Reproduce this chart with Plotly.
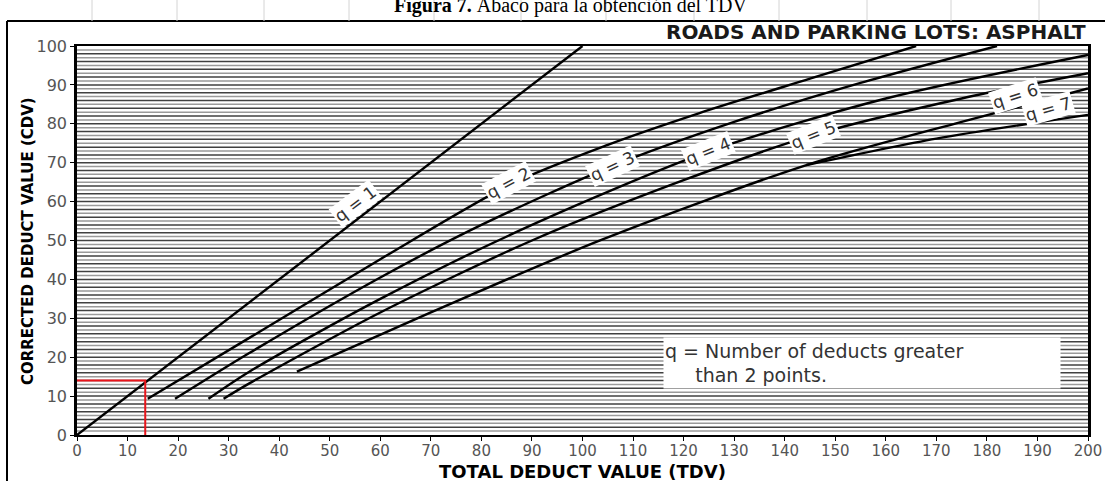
import plotly.graph_objects as go

# Corrected deduct value curves (TDV -> CDV), one pair of lists per q
tdv_q1 = [0, 100]
cdv_q1 = [0, 100]

tdv_q2 = [14, 34, 60, 86, 105, 123, 145, 166]
cdv_q2 = [9.3, 24.9, 45.2, 64.6, 74.6, 82.7, 91.6, 100]

tdv_q3 = [19.4, 34, 60, 80, 106, 130, 155, 182]
cdv_q3 = [9.3, 21.0, 40.5, 54.0, 69.2, 80.5, 90.5, 100]

tdv_q4 = [26, 34, 60, 90, 125, 160, 200]
cdv_q4 = [9.3, 16.2, 35.0, 54.0, 72.9, 86.5, 97.7]

tdv_q5 = [29, 34, 60, 90, 120, 145.6, 175, 200]
cdv_q5 = [9.3, 13.2, 31.5, 50.0, 65.5, 77.1, 86.5, 93.0]

tdv_q6 = [43.5, 70, 103.6, 144.3, 175, 200]
cdv_q6 = [16.3, 31.5, 50.1, 69.4, 80.5, 89.1]

tdv_q7 = [144.3, 170, 200]
cdv_q7 = [69.4, 76.2, 82.3]

# Worked example
example_tdv = 13.5
example_cdv = 14

# Curve labels: text, position (TDV, CDV), rotation
label_texts = ["q = 1", "q = 2", "q = 3", "q = 4", "q = 5", "q = 6", "q = 7"]
label_tdv = [55.0, 85.3, 106.0, 124.9, 145.6, 185.6, 192.1]
label_cdv = [59.4, 64.9, 69.2, 72.9, 77.1, 87.1, 83.8]
label_angles = [-37, -28, -25, -22, -22, -18, -16]

x_ticks = list(range(0, 201, 10))
y_ticks = list(range(0, 101, 10))
hatch_levels = list(range(1, 100))

curves = [
    (tdv_q1, cdv_q1), (tdv_q2, cdv_q2), (tdv_q3, cdv_q3), (tdv_q4, cdv_q4),
    (tdv_q5, cdv_q5), (tdv_q6, cdv_q6), (tdv_q7, cdv_q7),
]

FONT = "DejaVu Sans"

fig = go.Figure()

for xs, ys in curves:
    fig.add_trace(go.Scatter(
        x=xs, y=ys, mode="lines",
        line=dict(color="black", width=2.4, shape="spline", smoothing=0.8),
        hoverinfo="skip", showlegend=False,
    ))

fig.add_trace(go.Scatter(
    x=[0, example_tdv, example_tdv], y=[example_cdv, example_cdv, 0],
    mode="lines", line=dict(color="#e8141b", width=2),
    hoverinfo="skip", showlegend=False,
))

shapes = []
# Horizontal hatching: every unit, alternating dark / light rules
for v in hatch_levels:
    shapes.append(dict(
        type="line", xref="paper", x0=0, x1=1, yref="y", y0=v, y1=v,
        layer="below",
        line=dict(color="#404040" if v % 2 == 0 else "#9a9a9a", width=1.5),
    ))

# Page frame around the figure
L, R, B, T = 77, 1088, 435, 46
def px(p):
    return (p - L) / (R - L)
def py(p):
    return (B - p) / (B - T)

shapes.append(dict(type="line", xref="paper", yref="paper",
                   x0=px(7), x1=px(7), y0=py(481), y1=py(21),
                   line=dict(color="black", width=2)))
shapes.append(dict(type="line", xref="paper", yref="paper",
                   x0=px(7), x1=px(1105), y0=py(21), y1=py(21),
                   line=dict(color="black", width=2)))
for cx in [92, 177, 264, 349, 434, 521, 606, 694, 779, 867, 951, 1039]:
    shapes.append(dict(type="line", xref="paper", yref="paper",
                       x0=px(cx), x1=px(cx), y0=py(21), y1=py(0),
                       line=dict(color="#d4d4d4", width=1)))

annotations = []
for t, lx, ly, ang in zip(label_texts, label_tdv, label_cdv, label_angles):
    annotations.append(dict(
        x=lx, y=ly, xref="x", yref="y", text=t, showarrow=False,
        textangle=ang, bgcolor="white", borderpad=1,
        font=dict(family=FONT, size=17, color="#333333"),
    ))

annotations.append(dict(
    x=115.9, y=18.6, xref="x", yref="y", xanchor="left", yanchor="middle",
    text="q = Number of deducts greater<br>\u00a0\u00a0\u00a0\u00a0\u00a0than 2 points.",
    showarrow=False, align="left", valign="middle", bgcolor="white",
    width=394, height=48, borderpad=1,
    font=dict(family=FONT, size=19, color="#333333"),
))

annotations.append(dict(
    x=1, y=py(32), xref="paper", yref="paper", xanchor="right", yanchor="middle",
    text="<b>ROADS AND PARKING LOTS: ASPHALT</b>", showarrow=False,
    font=dict(family=FONT, size=20, color="#1a1a1a"),
))

annotations.append(dict(
    x=0.5, y=py(471), xref="paper", yref="paper", xanchor="center", yanchor="middle",
    text="<b>TOTAL DEDUCT VALUE (TDV)</b>", showarrow=False,
    font=dict(family=FONT, size=18, color="black"),
))

annotations.append(dict(
    x=px(28), y=py(241), xref="paper", yref="paper", xanchor="center", yanchor="middle",
    text="<b>CORRECTED DEDUCT VALUE (CDV)</b>", showarrow=False, textangle=-90,
    font=dict(family=FONT, size=15, color="black"),
))

annotations.append(dict(
    x=px(570), y=py(19), xref="paper", yref="paper", xanchor="center", yanchor="bottom",
    text="<b>Figura 7.</b> Ábaco para la obtención del TDV", showarrow=False,
    font=dict(family="Liberation Serif", size=20, color="black"),
))

fig.update_layout(
    width=1105, height=481,
    margin=dict(l=L, r=1105 - R, t=T, b=481 - B),
    paper_bgcolor="white", plot_bgcolor="white",
    shapes=shapes, annotations=annotations,
    xaxis=dict(
        range=[0, 200], tickvals=x_ticks, showgrid=False, zeroline=False,
        showline=True, linecolor="black", linewidth=2, mirror=True,
        ticks="outside", ticklen=4, tickcolor="black", automargin=False,
        ticklabelstandoff=-3,
        tickfont=dict(family=FONT, size=15, color="#555555"),
    ),
    yaxis=dict(
        range=[0, 100], tickvals=y_ticks, showgrid=False, zeroline=False,
        showline=True, linecolor="black", linewidth=2.5, mirror=True,
        ticks="outside", ticklen=4, tickcolor="black", automargin=False,
        tickfont=dict(family=FONT, size=16, color="#555555"),
    ),
)

fig.write_html("out.html")
